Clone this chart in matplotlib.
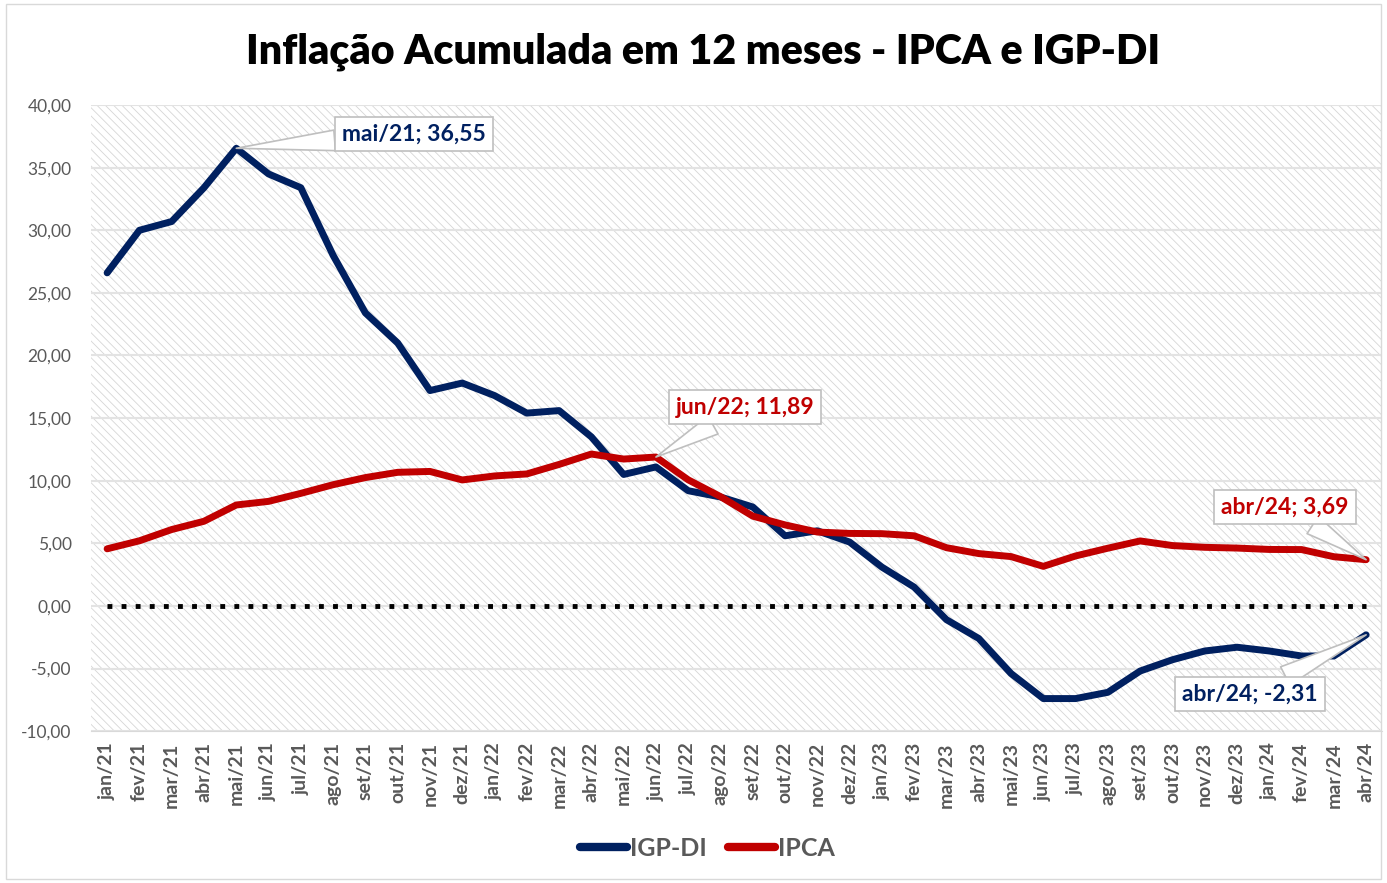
import numpy as np
import matplotlib.pyplot as plt
from matplotlib.patches import Rectangle

plt.rcParams['font.family'] = ['Lato', 'DejaVu Sans']

meses = ['jan/21', 'fev/21', 'mar/21', 'abr/21', 'mai/21', 'jun/21', 'jul/21', 'ago/21',
         'set/21', 'out/21', 'nov/21', 'dez/21', 'jan/22', 'fev/22', 'mar/22', 'abr/22',
         'mai/22', 'jun/22', 'jul/22', 'ago/22', 'set/22', 'out/22', 'nov/22', 'dez/22',
         'jan/23', 'fev/23', 'mar/23', 'abr/23', 'mai/23', 'jun/23', 'jul/23', 'ago/23',
         'set/23', 'out/23', 'nov/23', 'dez/23', 'jan/24', 'fev/24', 'mar/24', 'abr/24']

igp_di = [26.6, 30.0, 30.7, 33.4, 36.55, 34.5, 33.4, 28.0, 23.4, 21.0, 17.2, 17.8,
          16.8, 15.4, 15.6, 13.5, 10.5, 11.1, 9.2, 8.7, 7.9, 5.6, 6.0, 5.1,
          3.1, 1.5, -1.1, -2.6, -5.4, -7.4, -7.4, -6.9, -5.2, -4.3, -3.6, -3.3,
          -3.6, -4.0, -4.0, -2.31]

ipca = [4.56, 5.20, 6.10, 6.76, 8.06, 8.35, 8.99, 9.68, 10.25, 10.67, 10.74, 10.06,
        10.38, 10.54, 11.30, 12.13, 11.73, 11.89, 10.07, 8.73, 7.17, 6.47, 5.90, 5.79,
        5.77, 5.60, 4.65, 4.18, 3.94, 3.16, 3.99, 4.61, 5.19, 4.82, 4.68, 4.62,
        4.51, 4.50, 3.93, 3.69]

azul = '#002060'
vermelho = '#C00000'
cinza = '#595959'

x = np.arange(len(meses))

fig = plt.figure(figsize=(13.87, 8.83), dpi=100)
ax = fig.add_axes([0.0656, 0.172, 0.931, 0.709])

# fundo hachurado
plt.rcParams['hatch.linewidth'] = 0.6
fundo = Rectangle((0, 0), 1, 1, transform=ax.transAxes, facecolor='white',
                  edgecolor='#d6d6d6', hatch='\\\\\\\\', linewidth=0, zorder=0)
ax.add_patch(fundo)

ax.set_ylim(-10, 40)
ax.set_xlim(-0.5, len(meses) - 0.5)
ax.set_yticks(np.arange(-10, 41, 5))
ax.set_yticklabels([('%.2f' % v).replace('.', ',') for v in np.arange(-10, 41, 5)])
ax.grid(axis='y', color='#e3e3e3', linewidth=1.5, zorder=1)
ax.set_axisbelow(True)

ax.set_xticks(x)
ax.set_xticklabels(meses, rotation=90, fontweight='bold')
ax.tick_params(axis='x', colors=cinza, labelsize=14, length=0, pad=8)
ax.tick_params(axis='y', colors=cinza, labelsize=12.5, length=0, pad=14)
for s in ['top', 'right', 'left']:
    ax.spines[s].set_visible(False)
ax.spines['bottom'].set_color('#d9d9d9')

# linha do zero
ax.plot(x, np.zeros(len(x)), color='black', linewidth=3.5, linestyle=(0, (1, 1.9)), zorder=2)

l1, = ax.plot(x, igp_di, color=azul, linewidth=5, solid_joinstyle='round',
              solid_capstyle='round', label='IGP-DI', zorder=3)
l2, = ax.plot(x, ipca, color=vermelho, linewidth=5, solid_joinstyle='round',
              solid_capstyle='round', label='IPCA', zorder=4)

caixa = dict(boxstyle='square,pad=0.3', facecolor='white', edgecolor='#bfbfbf', linewidth=1.2)
seta = dict(arrowstyle='wedge,tail_width=0.9,shrink_factor=0.5', facecolor='white',
            edgecolor='#bfbfbf', linewidth=1.2, shrinkA=0, shrinkB=0)

def rotulo(i, serie, cor, px, py):
    ax.annotate('%s; %s' % (meses[i], ('%.2f' % serie[i]).replace('.', ',')),
                xy=(i, serie[i]), xytext=(px / 1387, 1 - py / 883),
                textcoords='figure fraction', ha='center', va='center',
                fontsize=16.5, fontweight='bold', color=cor, bbox=caixa,
                arrowprops=seta, zorder=6)

rotulo(4, igp_di, azul, 414, 134)
rotulo(17, ipca, vermelho, 745, 407)
rotulo(39, ipca, vermelho, 1285, 507)
rotulo(39, igp_di, azul, 1250, 694)

fig.text(0.507, 0.941, 'Inflação Acumulada em 12 meses - IPCA e IGP-DI',
         ha='center', va='center', fontsize=29.6, fontweight='heavy', color='black')

leg = fig.legend(handles=[l1, l2], loc='center', bbox_to_anchor=(0.51, 0.039), ncol=2,
                 frameon=False, fontsize=18, handlelength=1.9, handletextpad=0.1,
                 columnspacing=0.85)
for t in leg.get_texts():
    t.set_color(cinza)
    t.set_fontweight('bold')
for h in leg.legend_handles:
    h.set_linewidth(6)

fig.patches.append(Rectangle((0.004, 0.004), 0.992, 0.992, transform=fig.transFigure,
                             fill=False, edgecolor='#d9d9d9', linewidth=1))

fig.savefig('out.png', dpi=100)
